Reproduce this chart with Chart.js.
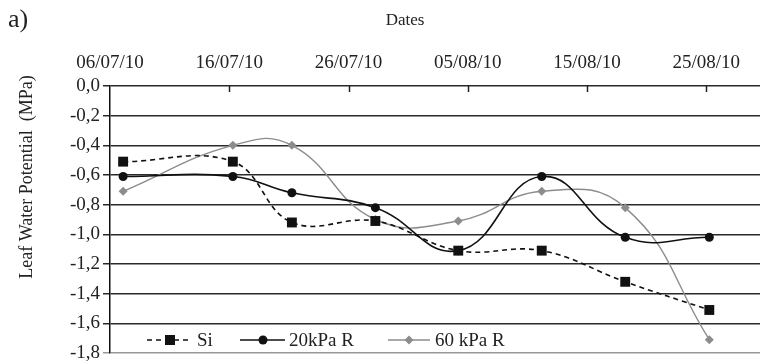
<!DOCTYPE html>
<html>
<head>
<meta charset="utf-8">
<script src="https://cdn.jsdelivr.net/npm/chart.js@4.4.1/dist/chart.umd.min.js"></script>
<style>
  html, body { margin: 0; padding: 0; background: #fff; }
  #wrap { position: relative; width: 760px; height: 364px; }
</style>
</head>
<body>
<div id="wrap"><canvas id="lwpChart"></canvas></div>
<script>
// Days after 06/07/10 for each sampling date
const sampleDays = [1.1, 10.3, 15.25, 22.25, 29.2, 36.2, 43.2, 50.25];
const siValues = [-0.51, -0.51, -0.92, -0.91, -1.11, -1.11, -1.32, -1.51];
const kpa20Values = [-0.61, -0.61, -0.72, -0.82, -1.11, -0.61, -1.02, -1.02];
const kpa60Values = [-0.71, -0.40, -0.40, -0.90, -0.91, -0.71, -0.82, -1.71];
const seriesNames = ['Si', '20kPa R', '60 kPa R'];
const xTickLabels = ['06/07/10', '16/07/10', '26/07/10', '05/08/10', '15/08/10', '25/08/10'];
const yTickLabels = ['0,0', '-0,2', '-0,4', '-0,6', '-0,8', '-1,0', '-1,2', '-1,4', '-1,6', '-1,8'];

const SERIF = '"Liberation Serif", "DejaVu Serif", serif';
const GRAY = '#8c8c8c';

function toPoints(values) {
  return values.map((v, i) => ({ x: sampleDays[i], y: v }));
}

// Titles, inner tick marks on the top axis and the in-plot legend
const decorPlugin = {
  id: 'decor',
  afterDraw(chart) {
    const { ctx, chartArea, scales } = chart;
    ctx.save();

    // tick marks pointing down from the top axis
    ctx.strokeStyle = '#222';
    ctx.lineWidth = 1.5;
    xTickLabels.forEach((lbl, i) => {
      if (i === 0) return;
      const x = Math.round(scales.x.getPixelForValue(i * 10)) + 0.5;
      ctx.beginPath();
      ctx.moveTo(x, chartArea.top);
      ctx.lineTo(x, chartArea.top + 6);
      ctx.stroke();
    });

    ctx.fillStyle = '#222';
    ctx.textBaseline = 'middle';

    ctx.font = '26px ' + SERIF;
    ctx.textAlign = 'left';
    ctx.fillText('a)', 8, 20);

    ctx.font = '17px ' + SERIF;
    ctx.textAlign = 'center';
    ctx.fillText('Dates', 405, 21);

    ctx.save();
    ctx.translate(27, 177);
    ctx.rotate(-Math.PI / 2);
    ctx.font = '18px ' + SERIF;
    ctx.fillText('Leaf Water Potential  (MPa)', 0, 0);
    ctx.restore();

    // legend
    const ly = 340;
    const items = [
      { x0: 147, x1: 192, mx: 170, tx: 197 },
      { x0: 240, x1: 285, mx: 263, tx: 289 },
      { x0: 388, x1: 430, mx: 409, tx: 435 }
    ];
    ctx.font = '19px ' + SERIF;
    ctx.textAlign = 'left';
    items.forEach((it, i) => {
      const ds = chart.data.datasets[i];
      ctx.strokeStyle = ds.borderColor;
      ctx.lineWidth = ds.borderWidth;
      ctx.setLineDash(ds.borderDash || []);
      ctx.beginPath();
      ctx.moveTo(it.x0, ly);
      ctx.lineTo(it.x1, ly);
      ctx.stroke();
      ctx.setLineDash([]);
      ctx.fillStyle = ds.pointBackgroundColor;
      ctx.beginPath();
      if (ds.pointStyle === 'rect') {
        ctx.rect(it.mx - 5, ly - 5, 10, 10);
      } else if (ds.pointStyle === 'circle') {
        ctx.arc(it.mx, ly, 4.5, 0, Math.PI * 2);
      } else {
        ctx.moveTo(it.mx - 4.5, ly);
        ctx.lineTo(it.mx, ly - 4.5);
        ctx.lineTo(it.mx + 4.5, ly);
        ctx.lineTo(it.mx, ly + 4.5);
        ctx.closePath();
      }
      ctx.fill();
      ctx.fillStyle = '#222';
      ctx.fillText(seriesNames[i], it.tx, ly + 1);
    });

    ctx.restore();
  }
};

const ctx = document.getElementById('lwpChart').getContext('2d');
new Chart(ctx, {
  type: 'line',
  data: {
    datasets: [
      {
        label: seriesNames[0],
        data: toPoints(siValues),
        borderColor: '#111',
        borderWidth: 1.6,
        borderDash: [5, 4],
        pointStyle: 'rect',
        pointRadius: 7,
        pointBackgroundColor: '#111',
        pointBorderWidth: 0,
        tension: 0.4
      },
      {
        label: seriesNames[1],
        data: toPoints(kpa20Values),
        borderColor: '#111',
        borderWidth: 1.6,
        pointStyle: 'circle',
        pointRadius: 4.5,
        pointBackgroundColor: '#111',
        pointBorderWidth: 0,
        tension: 0.45
      },
      {
        label: seriesNames[2],
        data: toPoints(kpa60Values),
        borderColor: GRAY,
        borderWidth: 1.4,
        pointStyle: 'rectRot',
        pointRadius: 4.5,
        pointBackgroundColor: GRAY,
        pointBorderWidth: 0,
        tension: 0.45
      }
    ]
  },
  options: {
    responsive: true,
    maintainAspectRatio: false,
    animation: false,
    layout: { autoPadding: false, padding: { top: 0, right: 0, bottom: 11, left: 0 } },
    plugins: {
      legend: { display: false },
      tooltip: { enabled: false }
    },
    scales: {
      x: {
        type: 'linear',
        position: 'top',
        min: 0,
        max: 54.5,
        afterFit: (s) => {
          s.height = 86;
          s.paddingLeft = 0;
          s.paddingRight = 0;
        },
        afterBuildTicks: (s) => {
          s.ticks = xTickLabels.map((lbl, i) => ({ value: i * 10 }));
        },
        grid: { display: false, drawTicks: false },
        border: { display: false },
        ticks: {
          padding: 12,
          color: '#222',
          font: { family: SERIF, size: 19 },
          autoSkip: false,
          maxRotation: 0,
          callback: (v) => xTickLabels[Math.round(v / 10)] || ''
        }
      },
      y: {
        min: -1.8,
        max: 0,
        afterFit: (s) => {
          s.width = 110;
          s.paddingTop = 0;
          s.paddingBottom = 0;
        },
        grid: {
          color: (c) => (c.index === 0 ? '#999' : '#2a2a2a'),
          lineWidth: 1.5,
          tickLength: 7
        },
        border: { display: true, color: '#111', width: 1.5 },
        ticks: {
          stepSize: 0.2,
          padding: 3,
          color: '#222',
          font: { family: SERIF, size: 19 },
          callback: (v) => yTickLabels[Math.round(-v / 0.2)]
        }
      }
    }
  },
  plugins: [decorPlugin]
});
</script>
</body>
</html>
